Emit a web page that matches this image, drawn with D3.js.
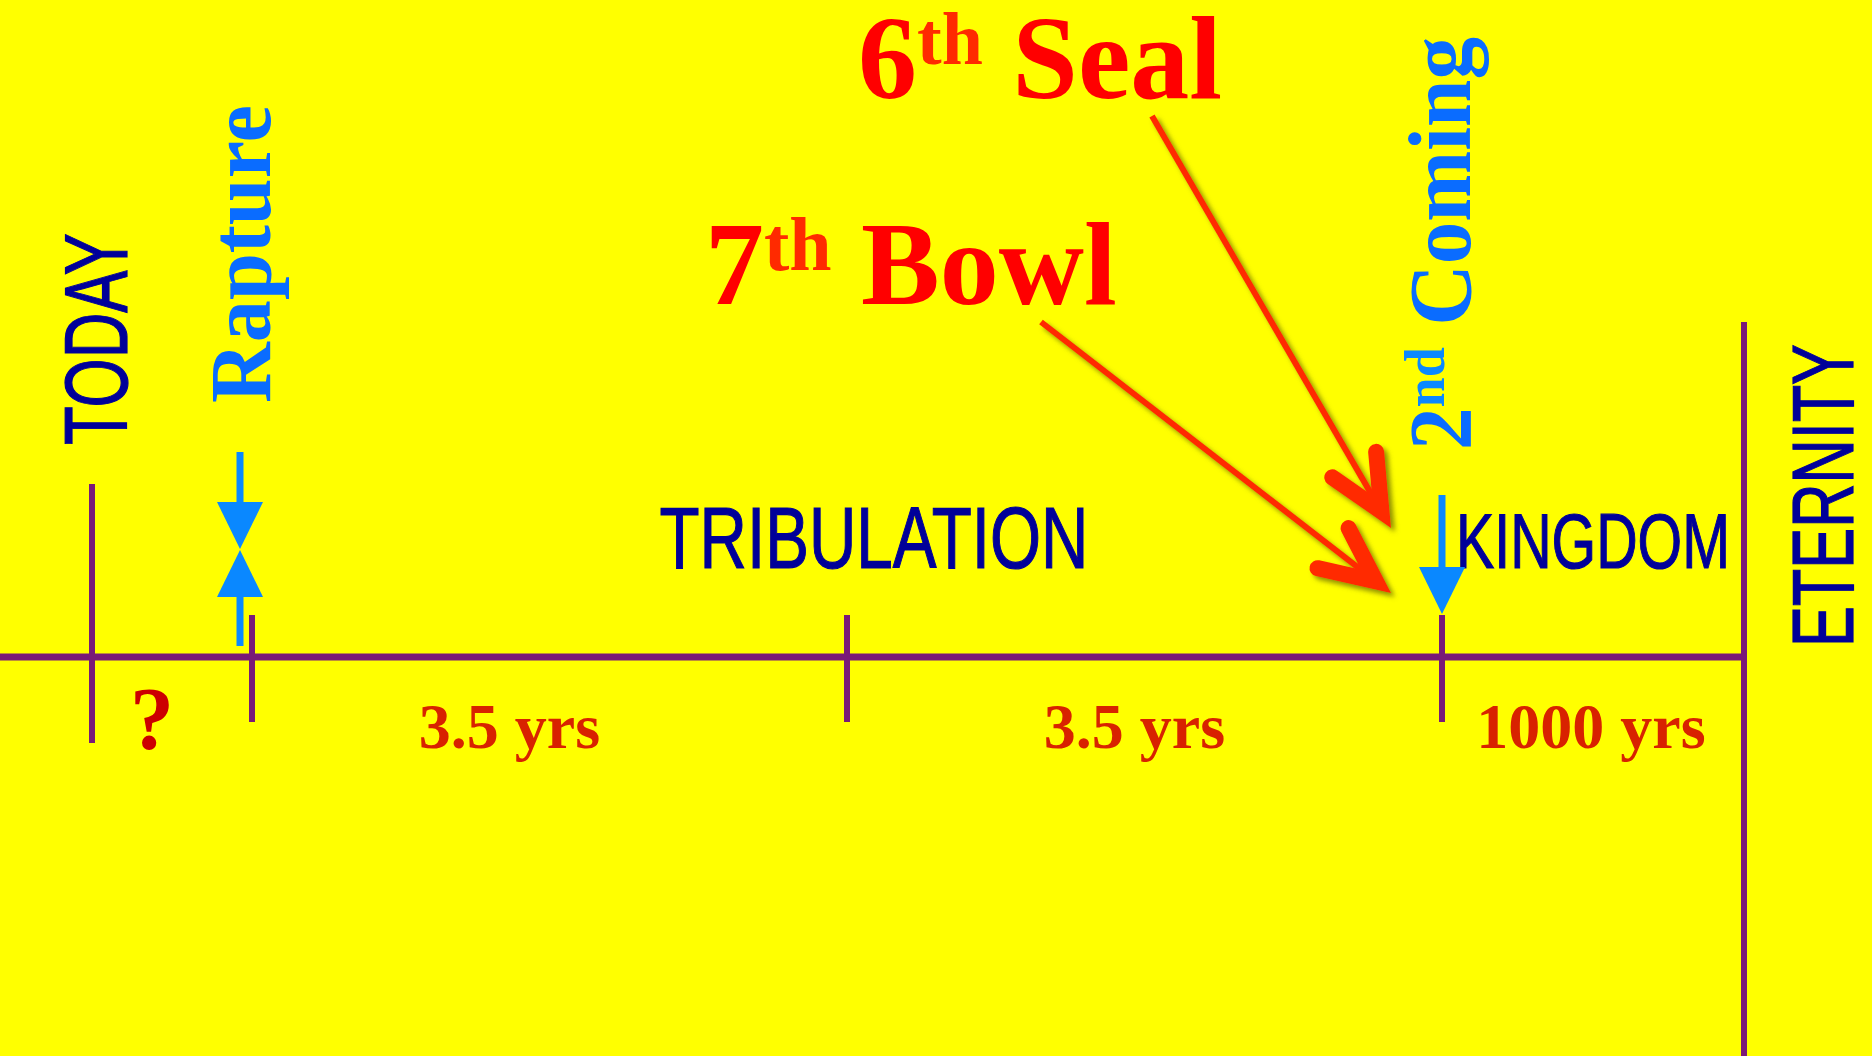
<!DOCTYPE html>
<html lang="en">

<head>
    <meta charset="UTF-8">
    <title>Timeline</title>
    <script src="https://d3js.org/d3.v7.min.js"></script>
    <style>
        body { margin: 0; background: #ffff00; overflow: hidden; }
    </style>
</head>

<body>
    <div id="my_dataviz"></div>
    <script>
        // milestones, in years after the rapture (the gap from today is unknown)
        var milestoneNames = ["TODAY", "Rapture", "Midpoint", "2nd Coming", "ETERNITY"]
        var milestoneYears = [-1, 0, 3.5, 7, 1007]
        var periodLabels = ["?", "3.5 yrs", "3.5 yrs", "1000 yrs"]
        var eraNames = ["TRIBULATION", "KINGDOM"]
        var eraStart = [0, 7]
        var eraEnd = [7, 1007]
        var eventNumbers = ["6", "7"]
        var eventSuffix = ["th", "th"]
        var eventWords = ["Seal", "Bowl"]
        var eventYears = [7, 7]

        var width = 1872
        height = 1056
        axisY = 657

        var svg = d3.select("#my_dataviz")
            .append("svg")
            .attr("width", width)
            .attr("height", height)

        svg.append("rect")
            .attr("width", width)
            .attr("height", height)
            .attr("fill", "#ffff00")

        var defs = svg.append("defs")
        defs.append("filter")
            .attr("id", "shadow")
            .attr("x", "-20%").attr("y", "-20%")
            .attr("width", "140%").attr("height", "140%")
            .append("feDropShadow")
            .attr("dx", 4).attr("dy", 4)
            .attr("stdDeviation", 2.5)
            .attr("flood-color", "#6b6b00")
            .attr("flood-opacity", 0.75)

        var x = d3.scaleLinear()
            .domain(milestoneYears)
            .range([92, 252, 847, 1442, 1744])

        var purple = "#7a1a78"
        var navy = "#000099"
        var sans = "'Liberation Sans', Arial, sans-serif"
        var serif = "'Liberation Serif', 'Times New Roman', serif"

        // main line and ticks
        svg.append("line")
            .attr("x1", 0).attr("x2", x(milestoneYears[4]))
            .attr("y1", axisY).attr("y2", axisY)
            .attr("stroke", purple)
            .attr("stroke-width", 7)

        var tickTop = [484, 615, 615, 615, 322]
        var tickBottom = [743, 722, 722, 722, height]
        svg.selectAll("ticks")
            .data(milestoneYears)
            .enter()
            .append("line")
            .attr("x1", function(d) { return x(d) })
            .attr("x2", function(d) { return x(d) })
            .attr("y1", function(d, i) { return tickTop[i] })
            .attr("y2", function(d, i) { return tickBottom[i] })
            .attr("stroke", purple)
            .attr("stroke-width", 6)

        // period lengths under the line
        var labelNudge = [-20, -40, -10, -2]
        svg.selectAll("periods")
            .data(periodLabels)
            .enter()
            .append("text")
            .text(function(d) { return d })
            .attr("x", function(d, i) {
                return (x(milestoneYears[i]) + x(milestoneYears[i + 1])) / 2 + labelNudge[i]
            })
            .attr("y", 748)
            .attr("text-anchor", "middle")
            .style("font-family", serif)
            .style("font-weight", "bold")
            .style("font-size", function(d) { return d == "?" ? "88px" : "64px" })
            .attr("fill", function(d) { return d == "?" ? "#cc0000" : "#d82200" })

        // eras above the line
        var eraNudge = [27, 0]
        var eraLength = [429, 274]
        var eraSize = [87, 78]
        svg.selectAll("eras")
            .data(eraNames)
            .enter()
            .append("text")
            .text(function(d) { return d })
            .attr("x", function(d, i) { return (x(eraStart[i]) + x(eraEnd[i])) / 2 + eraNudge[i] })
            .attr("y", 568)
            .attr("text-anchor", "middle")
            .attr("textLength", function(d, i) { return eraLength[i] })
            .attr("lengthAdjust", "spacingAndGlyphs")
            .style("font-family", sans)
            .style("font-size", function(d, i) { return eraSize[i] + "px" })
            .attr("fill", navy)
            .attr("stroke", navy)
            .attr("stroke-width", 1.2)

        // vertical milestone labels
        function vlabel(bx, by, len) {
            return svg.append("text")
                .attr("transform", "translate(" + bx + "," + by + ") rotate(-90)")
                .attr("textLength", len)
                .attr("lengthAdjust", "spacingAndGlyphs")
        }
        vlabel(x(milestoneYears[0]) + 35, 445, 212)
            .text(milestoneNames[0])
            .style("font-family", sans)
            .style("font-size", "89px")
            .attr("fill", navy)
            .attr("stroke", navy)
            .attr("stroke-width", 1.2)
        vlabel(x(milestoneYears[4]) + 109, 647, 303)
            .text(milestoneNames[4])
            .style("font-family", sans)
            .style("font-size", "88px")
            .attr("fill", navy)
            .attr("stroke", navy)
            .attr("stroke-width", 1.2)
        vlabel(x(milestoneYears[1]) + 18, 403, 298)
            .text(milestoneNames[1])
            .style("font-family", serif)
            .style("font-weight", "bold")
            .style("font-size", "86px")
            .attr("fill", "#0a6cff")

        var coming = milestoneNames[3].split(" ")
        var second = vlabel(x(milestoneYears[3]) + 28, 450, 413)
            .style("font-family", serif)
            .style("font-weight", "bold")
            .style("font-size", "88px")
            .attr("fill", "#0a6cff")
        second.append("tspan").text(coming[0].slice(0, 1))
        second.append("tspan").text(coming[0].slice(1))
            .attr("dy", -26).style("font-size", "56px").attr("fill", "#0a88ff")
        second.append("tspan").text(" " + coming[1])
            .attr("dy", 26)

        // blue arrows
        var blue = "#0a88ff"
        function blueArrow(cx, y0, y1, dir) {
            // line from y0 to y1 then triangle pointing in dir
            svg.append("line")
                .attr("x1", cx).attr("x2", cx)
                .attr("y1", y0).attr("y2", y1)
                .attr("stroke", blue).attr("stroke-width", 7)
            svg.append("path")
                .attr("d", d3.line()([[cx - 23, y1], [cx + 23, y1], [cx, y1 + dir * 47]]))
                .attr("fill", blue)
        }
        var rx = x(milestoneYears[1]) - 12
        blueArrow(rx, 452, 502, 1)
        blueArrow(rx, 646, 597, -1)
        blueArrow(x(milestoneYears[3]), 495, 567, 1)

        // red callouts
        var titleY = [98, 304]
        var titleX = [858, 705]
        var titleSup = [74, 76]
        svg.selectAll("events")
            .data(eventWords)
            .enter()
            .append("text")
            .attr("x", function(d, i) { return titleX[i] })
            .attr("y", function(d, i) { return titleY[i] })
            .style("font-family", serif)
            .style("font-weight", "bold")
            .style("font-size", "118px")
            .attr("fill", "#ff0000")
            .each(function(d, i) {
                var t = d3.select(this)
                t.append("tspan").text(eventNumbers[i])
                t.append("tspan").text(eventSuffix[i])
                    .attr("dy", -34).style("font-size", titleSup[i] + "px").attr("fill", "#ff2a00")
                t.append("tspan").text(" " + d).attr("dy", 34)
            })

        var arrowFrom = [[1152, 116], [1041, 322]]
        var arrowTipY = [528, 593]
        var arrows = svg.append("g").attr("filter", "url(#shadow)")
        eventYears.forEach(function(yr, i) {
            var x0 = arrowFrom[i][0], y0 = arrowFrom[i][1]
            var x1 = x(yr) - 51, y1 = arrowTipY[i]
            var ang = Math.atan2(y1 - y0, x1 - x0)
            var spread = 25 * Math.PI / 180
            var back = 8 / Math.sin(spread)
            var vx = x1 - back * Math.cos(ang), vy = y1 - back * Math.sin(ang)
            var head = 60
            arrows.append("line")
                .attr("x1", x0).attr("y1", y0)
                .attr("x2", vx).attr("y2", vy)
                .attr("stroke", "#ff2a00")
                .attr("stroke-width", 6)
            arrows.append("path")
                .attr("d", d3.line()([
                    [vx - head * Math.cos(ang - spread), vy - head * Math.sin(ang - spread)],
                    [vx, vy],
                    [vx - head * Math.cos(ang + spread), vy - head * Math.sin(ang + spread)]
                ]))
                .attr("fill", "none")
                .attr("stroke", "#ff2a00")
                .attr("stroke-width", 16)
                .attr("stroke-linecap", "round")
                .attr("stroke-linejoin", "miter")
                .attr("stroke-miterlimit", 10)
        })
    </script>
</body>

</html>
